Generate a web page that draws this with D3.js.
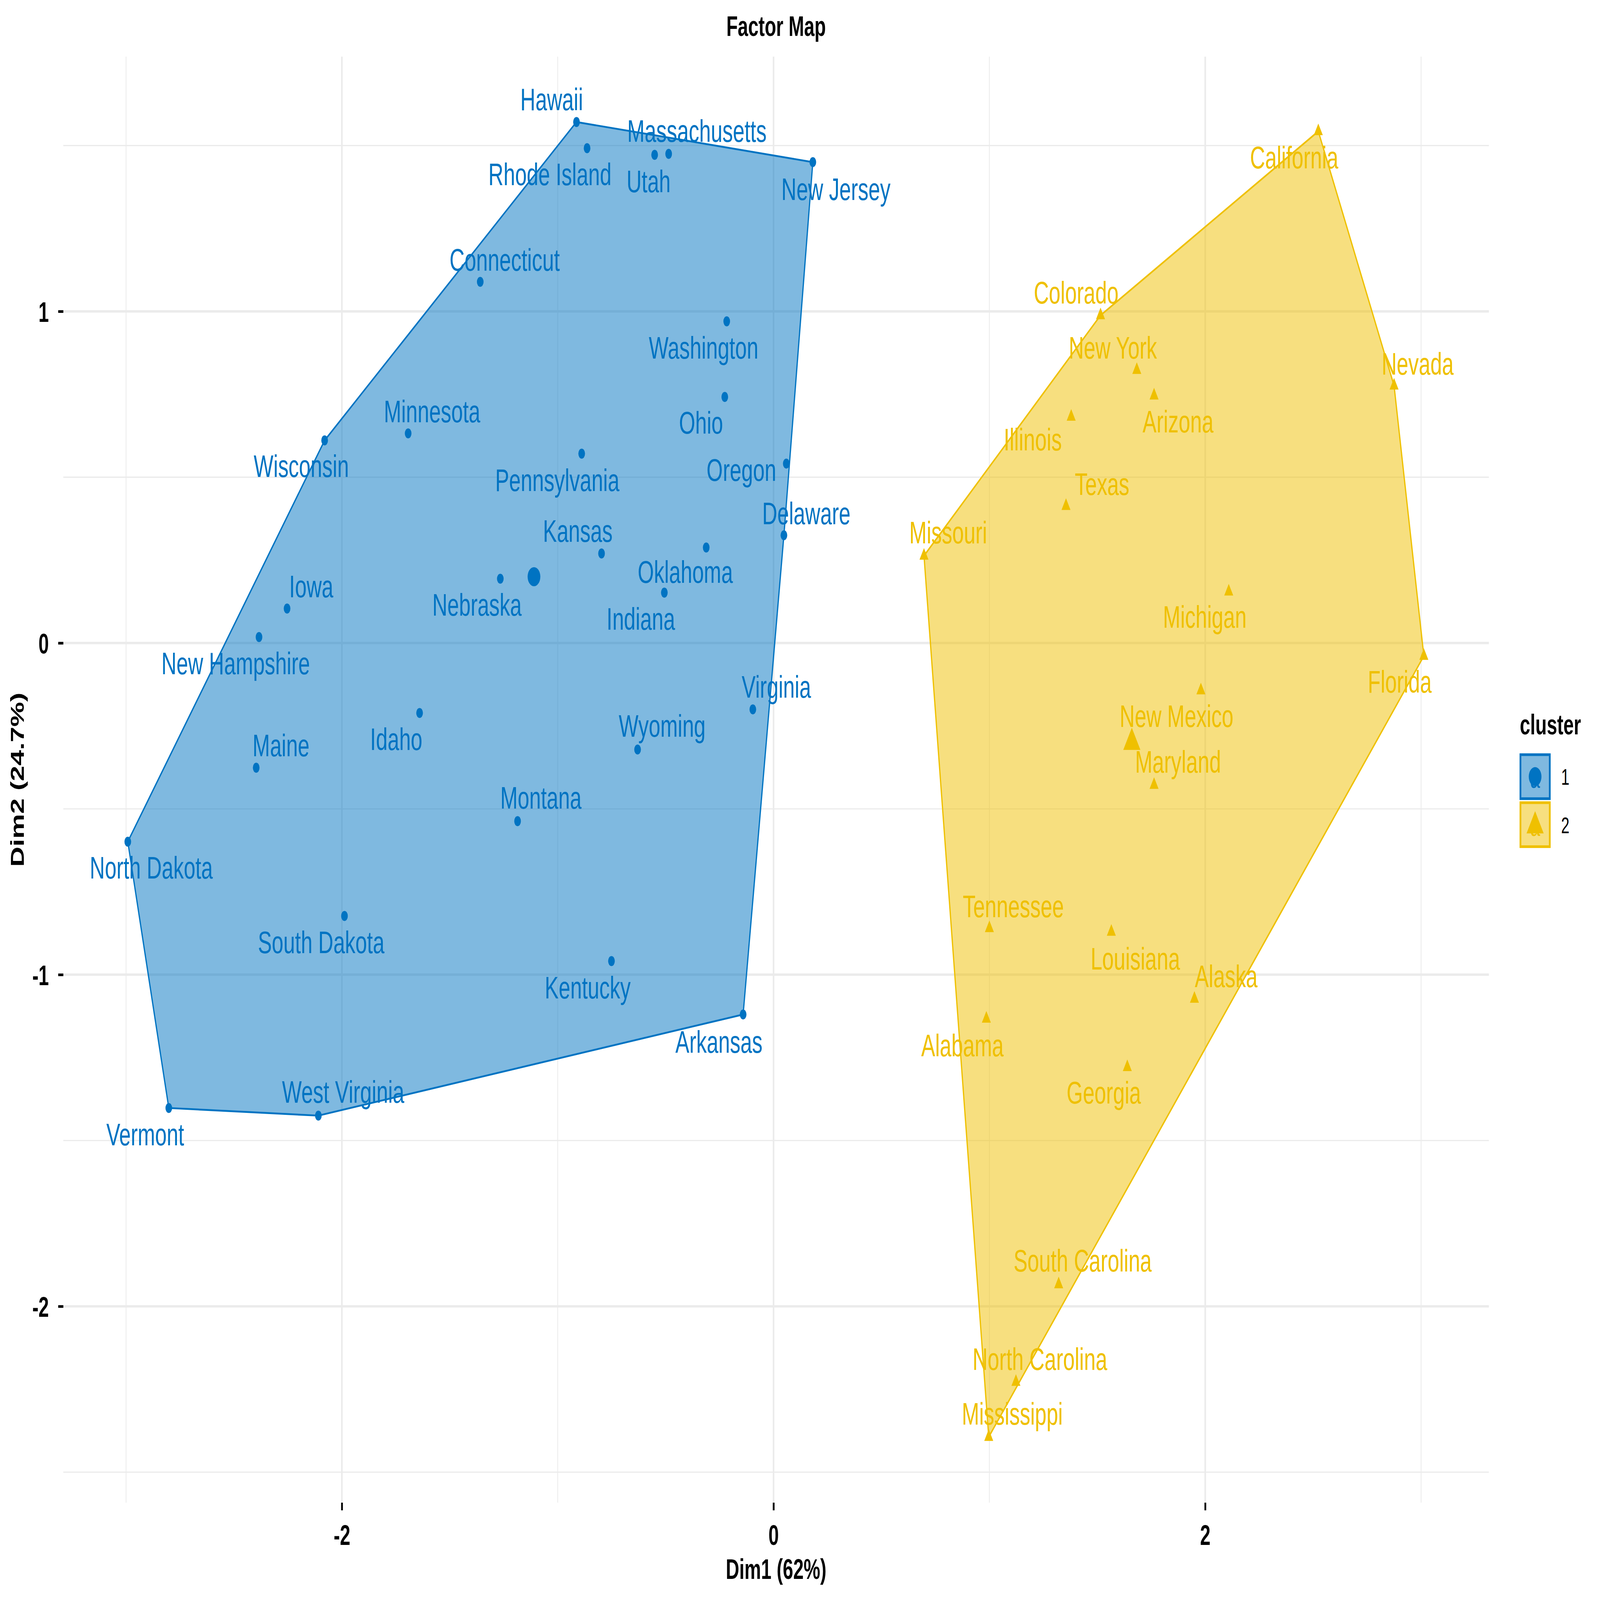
<!DOCTYPE html>
<html>
<head>
<meta charset="utf-8">
<script src="https://cdn.jsdelivr.net/npm/d3@7"></script>
<style>
  html, body { margin: 0; padding: 0; background: #fff; overflow: hidden; }
  svg { display: block; }
  text { font-family: "Liberation Sans", Arial, Helvetica, sans-serif; }
</style>
</head>
<body>
<svg id="chart" viewBox="0 0 7200 4800" preserveAspectRatio="none" style="width:100vw;height:100vh"></svg>
<script>
// ---------------- DATA ----------------
const states = ["Alabama","Alaska","Arizona","Arkansas","California","Colorado","Connecticut","Delaware","Florida","Georgia",
  "Hawaii","Idaho","Illinois","Indiana","Iowa","Kansas","Kentucky","Louisiana","Maine","Maryland",
  "Massachusetts","Michigan","Minnesota","Mississippi","Missouri","Montana","Nebraska","Nevada","New Hampshire","New Jersey",
  "New Mexico","New York","North Carolina","North Dakota","Ohio","Oklahoma","Oregon","Pennsylvania","Rhode Island","South Carolina",
  "South Dakota","Tennessee","Texas","Utah","Vermont","Virginia","Washington","West Virginia","Wisconsin","Wyoming"];

const dim1 = [0.986,1.950,1.763,-0.141,2.524,1.515,-1.359,0.048,3.013,1.639,
  -0.913,-1.640,1.379,-0.506,-2.254,-0.797,-0.751,1.565,-2.397,1.763,
  -0.486,2.109,-1.693,0.997,0.697,-1.186,-1.266,2.875,-2.384,0.182,
  1.980,1.683,1.123,-2.992,-0.226,-0.312,0.059,-0.889,-0.864,1.321,
  -1.988,1.000,1.355,-0.551,-2.802,-0.096,-0.217,-2.109,-2.080,-0.630];

const dim2 = [-1.133,-1.073,0.746,-1.120,1.543,0.988,1.089,0.325,-0.039,-1.279,
  1.571,-0.211,0.682,0.152,0.104,0.270,-0.959,-0.871,-0.376,-0.428,
  1.475,0.155,0.632,-2.394,0.263,-0.537,0.194,0.776,0.018,1.450,
  -0.143,0.823,-2.228,-0.599,0.742,0.288,0.541,0.571,1.492,-1.934,
  -0.823,-0.860,0.413,1.472,-1.402,-0.200,0.970,-1.425,0.611,-0.321];

const cluster = [2,2,2,1,2,2,1,1,2,2,
  1,1,2,1,1,1,1,2,1,2,
  1,2,1,2,2,1,1,2,1,1,
  2,2,2,1,1,1,1,1,1,2,
  1,2,2,1,1,1,1,1,1,1];

// repelled label positions (data units)
const labelX = [0.875,2.097,1.874,-0.253,2.412,1.402,-1.246,0.152,2.901,1.530,
  -1.028,-1.748,1.201,-0.615,-2.142,-0.907,-0.861,1.676,-2.282,1.874,
  -0.355,1.998,-1.582,1.106,0.809,-1.078,-1.374,2.984,-2.492,0.289,
  1.867,1.572,1.234,-2.883,-0.336,-0.409,-0.149,-1.002,-1.036,1.432,
  -2.096,1.111,1.522,-0.579,-2.911,0.013,-0.324,-1.994,-2.188,-0.516];

const labelY = [-1.212,-1.004,0.669,-1.201,1.465,1.058,1.157,0.392,-0.116,-1.355,
  1.640,-0.289,0.615,0.074,0.172,0.339,-1.038,-0.951,-0.308,-0.357,
  1.545,0.080,0.700,-2.323,0.334,-0.465,0.117,0.843,-0.060,1.370,
  -0.219,0.892,-2.158,-0.676,0.665,0.215,0.523,0.492,1.415,-1.861,
  -0.901,-0.793,0.480,1.393,-1.481,-0.131,0.892,-1.352,0.535,-0.249];

const clusterIds = [1, 2];
const centerX = [-1.11, 1.66];
const centerY = [0.20, -0.30];
const clusterColors = ["#0073C2", "#EFC000"];

const xTicks = [-2, 0, 2];
const yTicks = [-2, -1, 0, 1];
const xMinor = [-3, -1, 1, 3];
const yMinor = [-2.5, -1.5, -0.5, 0.5, 1.5];

const titleText = "Factor Map";
const xTitle = "Dim1 (62%)";
const yTitle = "Dim2 (24.7%)";
const legendTitle = "cluster";

// ---------------- LAYOUT ----------------
const panel = { left: 285, right: 6700, top: 170, bottom: 4508 };
const svg = d3.select("#chart");
svg.append("rect").attr("width", 7200).attr("height", 4800).attr("fill", "#fff");

const x = d3.scaleLinear().domain([-3.2906, 3.3143]).range([panel.left, panel.right]);
const y = d3.scaleLinear().domain([1.768, -2.592]).range([panel.top, panel.bottom]);
const color = d3.scaleOrdinal().domain(clusterIds).range(clusterColors);

const R = 15;      // small point radius
const RC = 28.6;   // centroid radius

function triPath(r) {
  return `M0,${-1.5551 * r}L${1.3468 * r},${0.7776 * r}L${-1.3468 * r},${0.7776 * r}Z`;
}

// ---------------- GRID ----------------
const grid = svg.append("g");
grid.selectAll(".vmin").data(xMinor).join("line")
  .attr("x1", d => x(d)).attr("x2", d => x(d))
  .attr("y1", panel.top).attr("y2", panel.bottom)
  .attr("stroke", "#EBEBEB").attr("stroke-width", 3.6);
grid.selectAll(".hmin").data(yMinor).join("line")
  .attr("y1", d => y(d)).attr("y2", d => y(d))
  .attr("x1", panel.left).attr("x2", panel.right)
  .attr("stroke", "#EBEBEB").attr("stroke-width", 3.6);
grid.selectAll(".vmaj").data(xTicks).join("line")
  .attr("x1", d => x(d)).attr("x2", d => x(d))
  .attr("y1", panel.top).attr("y2", panel.bottom)
  .attr("stroke", "#EBEBEB").attr("stroke-width", 7.2);
grid.selectAll(".hmaj").data(yTicks).join("line")
  .attr("y1", d => y(d)).attr("y2", d => y(d))
  .attr("x1", panel.left).attr("x2", panel.right)
  .attr("stroke", "#EBEBEB").attr("stroke-width", 7.2);

// ---------------- AXES ----------------
const xAxis = d3.axisBottom(x).tickValues(xTicks).tickSize(23).tickPadding(45).tickFormat(d => String(d));
const gx = svg.append("g").attr("transform", `translate(0,${panel.bottom})`).call(xAxis);
gx.select(".domain").remove();
gx.selectAll(".tick line").attr("stroke", "#000").attr("stroke-width", 8);
gx.selectAll(".tick text").attr("font-size", 84).attr("font-weight", "bold").attr("fill", "#000")
  .attr("dy", null).attr("y", 127).attr("font-family", '"Liberation Sans", Arial, sans-serif');

const yAxis = d3.axisLeft(y).tickValues(yTicks).tickSize(23).tickPadding(42).tickFormat(d => String(d));
const gy = svg.append("g").attr("transform", `translate(${panel.left},0)`).call(yAxis);
gy.select(".domain").remove();
gy.selectAll(".tick line").attr("stroke", "#000").attr("stroke-width", 8);
gy.selectAll(".tick text").attr("font-size", 84).attr("font-weight", "bold").attr("fill", "#000")
  .attr("dy", null).attr("y", 31).attr("font-family", '"Liberation Sans", Arial, sans-serif');

// ---------------- HULLS ----------------
const pts = states.map((s, i) => ({ name: s, x: dim1[i], y: dim2[i], c: cluster[i], lx: labelX[i], ly: labelY[i] }));
const hullLayer = svg.append("g");
clusterIds.forEach(cid => {
  const p = pts.filter(d => d.c === cid).map(d => [x(d.x), y(d.y)]);
  const hull = d3.polygonHull(p);
  hullLayer.append("path")
    .attr("d", "M" + hull.join("L") + "Z")
    .attr("fill", color(cid)).attr("fill-opacity", 0.5)
    .attr("stroke", color(cid)).attr("stroke-width", 5.5).attr("stroke-linejoin", "round");
});

// ---------------- POINTS ----------------
const ptLayer = svg.append("g");
ptLayer.selectAll("circle").data(pts.filter(d => d.c === 1)).join("circle")
  .attr("cx", d => x(d.x)).attr("cy", d => y(d.y)).attr("r", R).attr("fill", color(1));
ptLayer.selectAll("path").data(pts.filter(d => d.c === 2)).join("path")
  .attr("transform", d => `translate(${x(d.x)},${y(d.y)})`).attr("d", triPath(R)).attr("fill", color(2));

// ---------------- LABELS ----------------
svg.append("g").selectAll("text").data(pts).join("text")
  .attr("x", d => x(d.lx)).attr("y", d => y(d.ly) + 33.7)
  .attr("text-anchor", "middle").attr("font-size", 94)
  .attr("fill", d => color(d.c)).text(d => d.name);

// ---------------- CENTROIDS ----------------
const centers = clusterIds.map((c, i) => ({ c, x: centerX[i], y: centerY[i] }));
svg.append("circle").attr("cx", x(centers[0].x)).attr("cy", y(centers[0].y)).attr("r", RC).attr("fill", color(1));
svg.append("path").attr("transform", `translate(${x(centers[1].x)},${y(centers[1].y)})`)
  .attr("d", triPath(RC)).attr("fill", color(2));

// ---------------- TITLES ----------------
svg.append("text").attr("x", (panel.left + panel.right) / 2).attr("y", 108)
  .attr("text-anchor", "middle").attr("font-size", 84).attr("font-weight", "bold").text(titleText);
svg.append("text").attr("x", (panel.left + panel.right) / 2).attr("y", 4737)
  .attr("text-anchor", "middle").attr("font-size", 84).attr("font-weight", "bold").text(xTitle);
svg.append("text").attr("transform", `translate(108,${(panel.top + panel.bottom) / 2}) rotate(-90)`)
  .attr("text-anchor", "middle").attr("font-size", 84).attr("font-weight", "bold").text(yTitle);

// ---------------- LEGEND ----------------
const lg = svg.append("g");
lg.append("text").attr("x", 6839).attr("y", 2203).attr("font-size", 84).attr("font-weight", "bold").text(legendTitle);
clusterIds.forEach((cid, i) => {
  const top = 2264 + i * 144;
  const cx = 6908, cy = top + 66;
  lg.append("rect").attr("x", 6842).attr("y", top).attr("width", 132).attr("height", 132)
    .attr("fill", color(cid)).attr("fill-opacity", 0.5).attr("stroke", color(cid)).attr("stroke-width", 8);
  lg.append("text").attr("x", cx).attr("y", cy + 34).attr("text-anchor", "middle")
    .attr("font-size", 80).attr("fill", color(cid)).text("a");
  if (i === 0) {
    lg.append("circle").attr("cx", cx).attr("cy", cy).attr("r", RC).attr("fill", color(cid));
  } else {
    lg.append("path").attr("transform", `translate(${cx},${cy + 4})`).attr("d", triPath(RC)).attr("fill", color(cid));
  }
  lg.append("text").attr("x", 7025).attr("y", 2354 + i * 146).attr("font-size", 67).text(String(cid));
});
</script>
</body>
</html>
